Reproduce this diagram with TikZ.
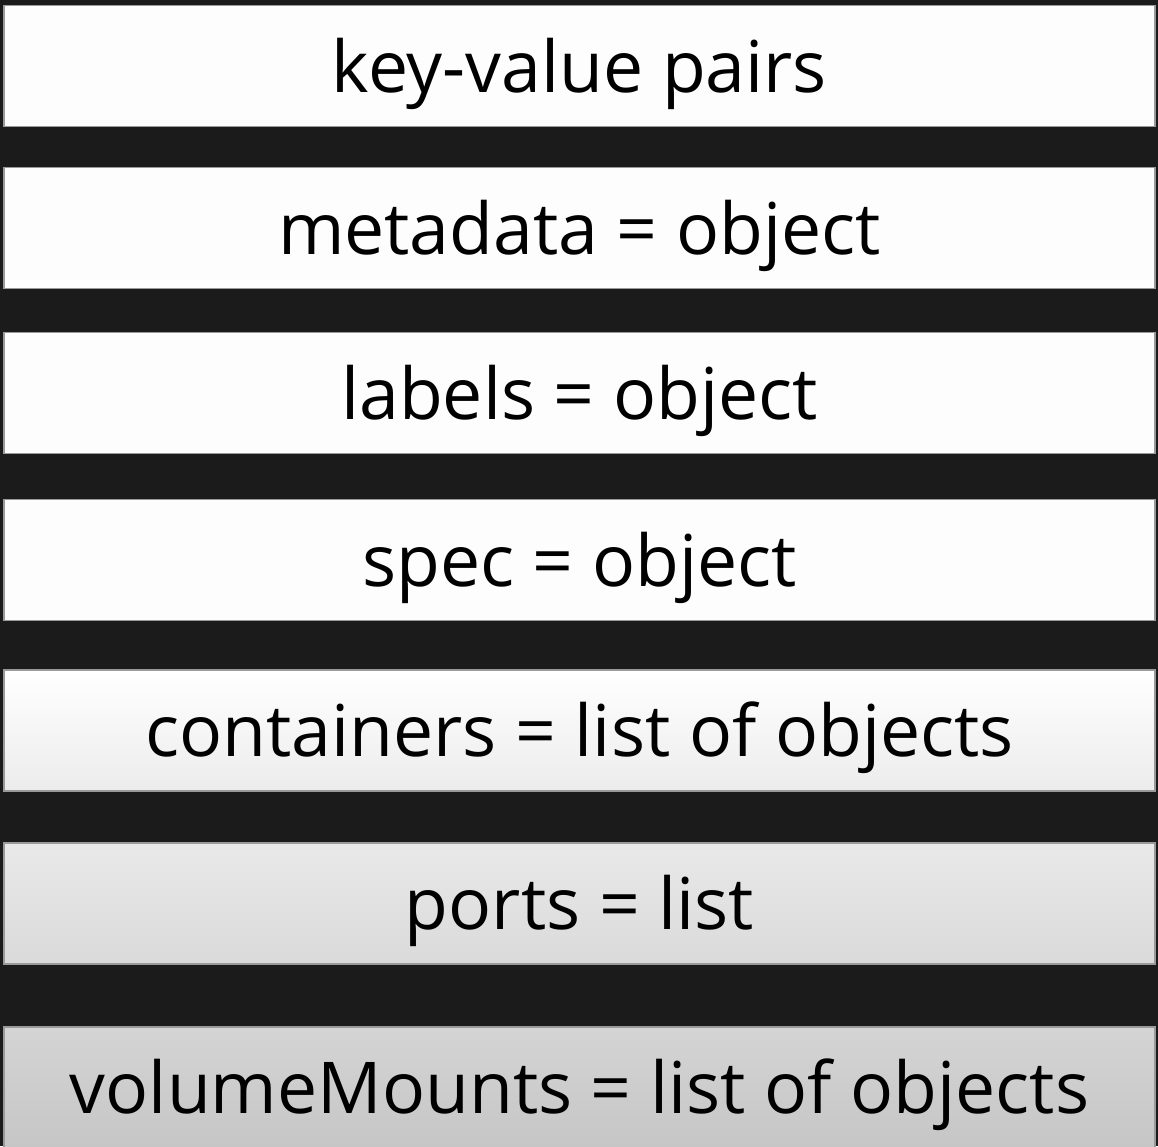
\documentclass[tikz,border=0pt]{standalone}
\usepackage{fontspec}
\setmainfont{Open Sans}
\usetikzlibrary{positioning}
\definecolor{bgdark}{HTML}{1B1B1B}
\definecolor{barline}{HTML}{9A9A9A}
\definecolor{barwhite}{HTML}{FDFDFD}
\definecolor{shadeA}{HTML}{ECECEC}
\definecolor{shadeB}{HTML}{E9E9E9}
\definecolor{shadeC}{HTML}{DADADA}
\definecolor{shadeD}{HTML}{D4D4D4}
\definecolor{shadeE}{HTML}{C6C6C6}

\begin{document}
\begin{tikzpicture}[
    x=1pt, y=-1pt,
    bar/.style={draw=barline, line width=1.2pt, inner sep=0pt, minimum width=1151pt, minimum height=121pt,
        text height=52pt, text depth=0pt, font=\fontsize{71.5}{84}\selectfont, text=black},
]
% background
\fill[bgdark] (0,0) rectangle (1158,1146);
\useasboundingbox (0,0) rectangle (1158,1146);
\clip (0,0) rectangle (1158,1146);

% stacked fields
\node[bar, fill=barwhite] (pairs) at (579.5,66) {key-value pairs};
\node[bar, fill=barwhite] (meta) at (579.5,228) {metadata = object};
\node[bar, fill=barwhite] (lbls) at (579.5,393) {labels = object};
\node[bar, fill=barwhite] (spec) at (579.5,560) {spec = object};
\node[bar, top color=white, bottom color=shadeA] (cont) at (579.5,730.5) {containers = list of objects};
\node[bar, top color=shadeB, bottom color=shadeC] (ports) at (579.5,903.5) {ports = list};
\node[bar, top color=shadeD, bottom color=shadeE] (vols) at (579.5,1087.5) {volumeMounts = list of objects};
\end{tikzpicture}
\end{document}
